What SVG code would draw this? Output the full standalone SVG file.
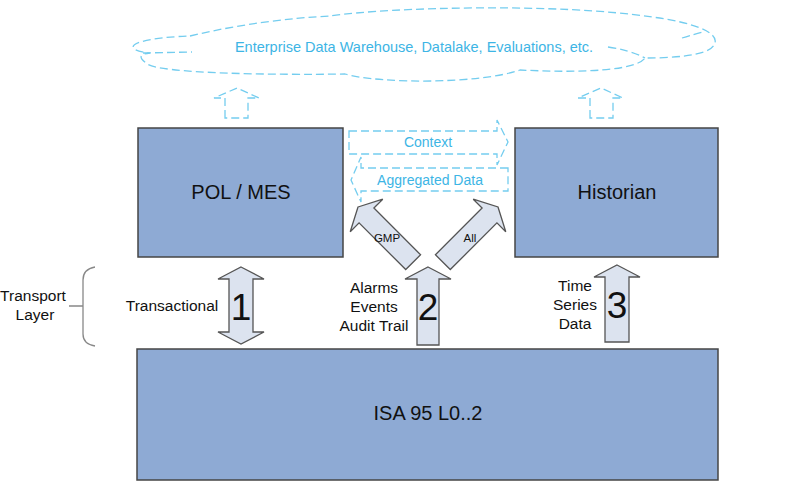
<svg xmlns="http://www.w3.org/2000/svg" width="787" height="490" viewBox="0 0 787 490">
<style>
text{font-family:"Liberation Sans",Arial,sans-serif;}
.box{fill:#8eaad4;stroke:#454545;stroke-width:1.5;}
.lbl{font-size:20px;fill:#111;text-anchor:middle;}
.arr{fill:#dce3ef;stroke:#555;stroke-width:1.3;stroke-linejoin:miter;}
.dash{fill:none;stroke:#74cdef;stroke-width:1.3;stroke-dasharray:8 4;}
.ctext{fill:#3db5e5;font-size:14px;text-anchor:middle;}
.t15{font-size:15.5px;fill:#111;text-anchor:middle;}
.num{font-size:37px;fill:#111;text-anchor:middle;}
.small{font-size:11.5px;fill:#111;text-anchor:middle;}
</style>
<defs>
<path id="diag" d="M0,0 L23,12 L10.5,12 L10.5,78 L-10.5,78 L-10.5,12 L-23,12 Z"/>
</defs>
<rect width="787" height="490" fill="#fff"/>

<g id="cloud">
<path class="dash" d="M190,36 C240,24 290,18 330,16 C390,7 560,3 652,17 C690,22 722,32 714,45 C708,56 672,58 645,58 C638,68 600,74 520,70 C480,84 380,84 345,74 C280,75 155,74 146,63 C138,57 140,54 150,53 C120,50 128,38 190,36 Z"/>
<path class="dash" d="M143,53 L192,52 M608,47 Q630,50 645,58 M682,38 Q695,34 703,32"/>
<text class="ctext" x="414" y="52" style="font-size:14.5px">Enterprise Data Warehouse, Datalake, Evaluations, etc.</text>
</g>

<g id="pol-mes">
<rect class="box" x="138" y="128" width="205" height="129"/>
<text class="lbl" x="241" y="199">POL / MES</text>
</g>

<g id="historian">
<rect class="box" x="515" y="128" width="203" height="129"/>
<text class="lbl" x="617" y="199">Historian</text>
</g>

<g id="isa95">
<rect class="box" x="137" y="349" width="581" height="131"/>
<text class="lbl" x="428" y="420">ISA 95 L0..2</text>
</g>

<g id="transport-layer">
<path d="M95,267 Q83,269 83,280 L83,334 Q83,344 95,346 M69,306 L83,306" fill="none" stroke="#888" stroke-width="1.3"/>
<text class="t15" x="33" y="301">Transport</text>
<text class="t15" x="35" y="320">Layer</text>
</g>

<g id="connectors">
<path class="dash" d="M225,118 L225,98 L214,98 L237,88 L259,98 L248,98 L248,118 Z"/>
<path class="dash" d="M590,118 L590,98 L578,98 L601,88 L623,98 L613,98 L613,118 Z"/>
<path class="dash" d="M349,131 L497,131 L497,120 L508,142 L497,165 L497,154 L349,154 Z"/>
<text class="ctext" x="428" y="147">Context</text>
<path class="dash" d="M508,168 L361,168 L361,157 L351,180 L361,202 L361,191 L508,191 Z"/>
<text class="ctext" x="430" y="185">Aggregated Data</text>

<use href="#diag" class="arr" transform="translate(358,207) rotate(-45)"/>
<text class="small" x="387" y="242">GMP</text>
<use href="#diag" class="arr" transform="translate(498,207) rotate(45)"/>
<text class="small" x="470" y="242">All</text>

<path class="arr" d="M241,267 L264,279 L253,279 L253,332 L264,332 L241,344 L218,332 L229,332 L229,279 L218,279 Z"/>
<text class="num" x="241" y="320">1</text>
<text class="t15" x="172" y="311">Transactional</text>

<path class="arr" d="M428,267 L451,279 L439,279 L439,345 L417,345 L417,279 L405,279 Z"/>
<text class="num" x="428" y="320">2</text>
<text class="t15" x="374" y="293">Alarms</text>
<text class="t15" x="374" y="312">Events</text>
<text class="t15" x="374" y="331">Audit Trail</text>

<path class="arr" d="M617,265 L640,277 L629,277 L629,342 L605,342 L605,277 L594,277 Z"/>
<text class="num" x="617" y="318">3</text>
<text class="t15" x="575" y="291">Time</text>
<text class="t15" x="575" y="310">Series</text>
<text class="t15" x="575" y="329">Data</text>
</g>
</svg>
